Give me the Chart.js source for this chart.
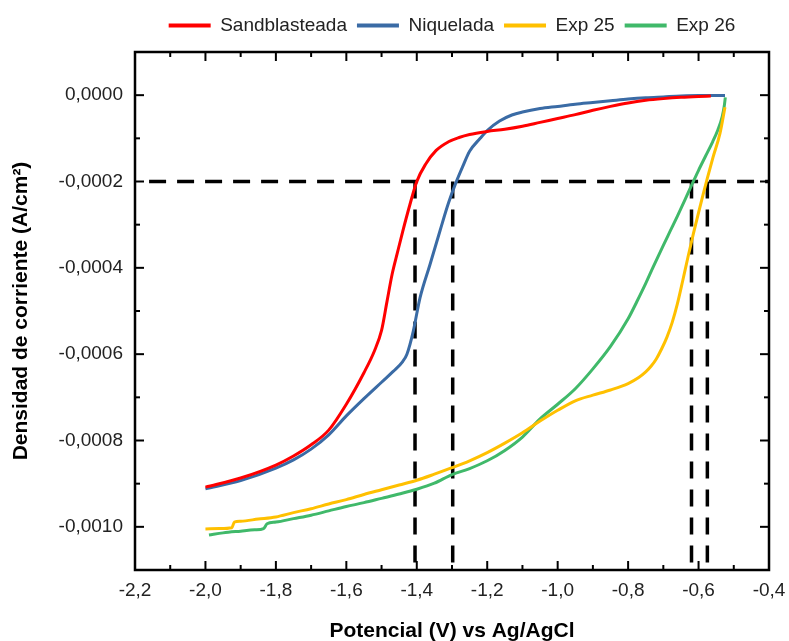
<!DOCTYPE html>
<html>
<head>
<meta charset="utf-8">
<script src="https://cdn.jsdelivr.net/npm/chart.js@4.4.1/dist/chart.umd.min.js"></script>
<style>
  body { margin: 0; background: #fff; }
  canvas { display: block; }
</style>
</head>
<body>
<canvas id="polChart" width="789" height="641"></canvas>
<script>
// series: potential (V vs Ag/AgCl) and current density (A/cm2)
const potSand = [-2.0, -1.9, -1.8, -1.75, -1.7, -1.65, -1.6, -1.55, -1.52, -1.5, -1.485, -1.47, -1.455, -1.44, -1.42, -1.4, -1.375, -1.345, -1.31, -1.28, -1.25, -1.2, -1.15, -1.1, -1.05, -1.0, -0.95, -0.9, -0.85, -0.8, -0.75, -0.7, -0.65, -0.6, -0.565]
const curSand = [-0.000908, -0.000887, -0.000857, -0.000836, -0.00081, -0.000776, -0.000716, -0.000643, -0.000592, -0.000545, -0.00048, -0.000415, -0.000365, -0.000316, -0.000255, -0.0002, -0.00016, -0.000128, -0.000108, -0.000098, -0.000091, -0.000084, -0.000079, -0.000072, -0.000063, -0.000054, -0.000045, -0.000035, -0.000026, -0.000018, -0.000012, -0.000008, -0.000005, -0.000003, -0.000002]

const potNiq = [-2.0, -1.9, -1.8, -1.75, -1.7, -1.65, -1.6, -1.55, -1.5, -1.467, -1.44, -1.428, -1.41, -1.391, -1.362, -1.334, -1.31, -1.29, -1.27, -1.25, -1.22, -1.2, -1.165, -1.13, -1.1, -1.05, -1.0, -0.95, -0.9, -0.85, -0.8, -0.75, -0.7, -0.65, -0.6, -0.525]
const curNiq = [-0.000912, -0.000893, -0.000864, -0.000845, -0.00082, -0.000787, -0.000743, -0.000703, -0.000665, -0.00064, -0.000617, -0.0006, -0.000547, -0.00047, -0.000391, -0.000314, -0.00025, -0.000205, -0.000166, -0.00013, -0.0001, -0.000082, -0.00006, -0.000046, -0.000039, -0.000031, -0.000026, -0.000021, -0.000017, -0.000013, -0.000009, -0.000006, -0.000004, -0.000002, -0.000001, -0.000001]

const potExp25 = [-2.0, -1.96, -1.925, -1.918, -1.9, -1.85, -1.8, -1.75, -1.7, -1.65, -1.6, -1.55, -1.5, -1.45, -1.4, -1.35, -1.3, -1.25, -1.2, -1.15, -1.1, -1.05, -1.0, -0.95, -0.9, -0.85, -0.8, -0.77, -0.75, -0.735, -0.72, -0.705, -0.69, -0.675, -0.66, -0.645, -0.63, -0.615, -0.6, -0.587, -0.575, -0.559, -0.539, -0.525]
const curExp25 = [-0.001005, -0.001004, -0.001002, -0.000989, -0.000987, -0.000982, -0.000977, -0.000967, -0.000958, -0.000947, -0.000937, -0.000925, -0.000914, -0.000903, -0.000892, -0.000878, -0.000863, -0.000847, -0.000828, -0.000806, -0.000782, -0.000755, -0.00073, -0.000708, -0.000695, -0.000683, -0.000668, -0.000654, -0.000641, -0.000628, -0.000611, -0.000588, -0.000561, -0.000527, -0.000483, -0.00043, -0.000375, -0.000322, -0.000272, -0.00023, -0.000192, -0.000144, -0.000088, -0.000028]

const potExp26 = [-1.99, -1.95, -1.9, -1.86, -1.835, -1.825, -1.8, -1.75, -1.7, -1.65, -1.6, -1.55, -1.5, -1.45, -1.4, -1.35, -1.3, -1.25, -1.2, -1.15, -1.1, -1.05, -1.0, -0.95, -0.9, -0.85, -0.8, -0.775, -0.75, -0.73, -0.7, -0.68, -0.66, -0.64, -0.62, -0.6, -0.58, -0.56, -0.545, -0.533, -0.527, -0.524]
const curExp26 = [-0.001019, -0.001014, -0.00101, -0.001007, -0.001004, -0.000993, -0.000989, -0.000981, -0.000973, -0.000963, -0.000953, -0.000944, -0.000934, -0.000924, -0.000913, -0.000899, -0.000879, -0.000865, -0.000847, -0.000823, -0.000792, -0.00075, -0.000716, -0.00068, -0.000634, -0.000582, -0.000518, -0.000478, -0.000436, -0.0004, -0.000348, -0.000314, -0.00028, -0.000245, -0.000209, -0.000174, -0.000141, -0.000108, -0.00008, -0.00005, -0.000025, -0.000005]

// reference lines at -0.0002 A/cm2 and where each curve crosses it
const refCurrent = -0.0002
const refLineX = [-2.16, -0.4]
const crossPot = [-1.405, -1.298, -0.62, -0.575]

const xTicks = [-2.2, -2.0, -1.8, -1.6, -1.4, -1.2, -1.0, -0.8, -0.6, -0.4]
const yTicks = [0, -0.0002, -0.0004, -0.0006, -0.0008, -0.001]
const xMin = -2.2, xMax = -0.4, yMin = -0.0011, yMax = 0.0001

const FONT = "'Liberation Sans', Arial, sans-serif"

const toPoints = (xs, ys) => xs.map((x, i) => ({ x, y: ys[i] }))

function curve(label, xs, ys, color) {
  return {
    label,
    data: toPoints(xs, ys),
    borderColor: color,
    backgroundColor: color,
    borderWidth: 3,
    pointRadius: 0,
    showLine: true,
    cubicInterpolationMode: 'monotone',
  }
}

function dashed(points) {
  return {
    label: '',
    data: points,
    borderColor: '#000',
    borderWidth: 3.5,
    borderDash: [17, 11],
    pointRadius: 0,
    showLine: true,
    tension: 0,
  }
}

const datasets = [
  curve('Sandblasteada', potSand, curSand, '#ff0000'),
  curve('Niquelada', potNiq, curNiq, '#3a6ba5'),
  curve('Exp 25', potExp25, curExp25, '#ffc000'),
  curve('Exp 26', potExp26, curExp26, '#40b96a'),
  dashed(refLineX.map((x) => ({ x, y: refCurrent }))),
  ...crossPot.map((x) => dashed([{ x, y: refCurrent }, { x, y: yMin }])),
]

// box round the plot with inward ticks on all four sides
const frameTicks = {
  id: 'frameTicks',
  afterDatasetsDraw(chart) {
    const { ctx, chartArea: a, scales: { x, y } } = chart
    const line = (x1, y1, x2, y2) => {
      ctx.beginPath()
      ctx.moveTo(x1, y1)
      ctx.lineTo(x2, y2)
      ctx.stroke()
    }
    ctx.save()
    ctx.strokeStyle = '#000'
    ctx.lineWidth = 2
    xTicks.forEach((v, i) => {
      const px = x.getPixelForValue(v)
      line(px, a.bottom, px, a.bottom - 9)
      line(px, a.top, px, a.top + 9)
      if (i < xTicks.length - 1) {
        const m = x.getPixelForValue((v + xTicks[i + 1]) / 2)
        line(m, a.bottom, m, a.bottom - 5)
        line(m, a.top, m, a.top + 5)
      }
    })
    yTicks.forEach((v, i) => {
      const py = y.getPixelForValue(v)
      line(a.left, py, a.left + 9, py)
      line(a.right, py, a.right - 9, py)
      if (i < yTicks.length - 1) {
        const m = y.getPixelForValue((v + yTicks[i + 1]) / 2)
        line(a.left, m, a.left + 5, m)
        line(a.right, m, a.right - 5, m)
      }
    })
    ctx.lineWidth = 2.5
    ctx.strokeRect(a.left, a.top, a.right - a.left, a.bottom - a.top)
    ctx.restore()
  },
}

const ctx = document.getElementById('polChart').getContext('2d')
new Chart(ctx, {
  type: 'scatter',
  data: { datasets },
  plugins: [frameTicks],
  options: {
    responsive: false,
    devicePixelRatio: 1,
    animation: false,
    layout: { padding: { top: 6, right: 20, left: 0, bottom: 0 } },
    plugins: {
      tooltip: { enabled: false },
      legend: {
        position: 'top',
        fullSize: false,
        labels: {
          usePointStyle: true,
          pointStyle: 'line',
          pointStyleWidth: 42,
          padding: 10,
          color: '#222',
          font: { family: FONT, size: 19 },
          filter: (item) => item.datasetIndex < 4,
          generateLabels(chart) {
            const items = Chart.defaults.plugins.legend.labels.generateLabels(chart)
            items.forEach((it) => { it.lineWidth = 4 })
            return items
          },
        },
      },
    },
    scales: {
      x: {
        type: 'linear',
        min: xMin,
        max: xMax,
        afterBuildTicks: (s) => { s.ticks = xTicks.map((value) => ({ value })) },
        afterFit: (s) => {
          s.height = 71
          s.paddingLeft = 0
          s.paddingRight = 0
        },
        grid: { display: false, drawTicks: false },
        border: { display: false },
        ticks: {
          autoSkip: false,
          maxRotation: 0,
          padding: 9,
          color: '#222',
          font: { family: FONT, size: 19 },
          callback: (v) => v.toFixed(1).replace('.', ','),
        },
        title: {
          display: true,
          text: 'Potencial (V) vs Ag/AgCl',
          color: '#000',
          font: { family: FONT, size: 21, weight: 'bold' },
          padding: { top: 0, bottom: -3 },
        },
      },
      x2: {
        type: 'linear',
        position: 'top',
        afterFit: (s) => { s.height = 7 },
        grid: { display: false, drawTicks: false },
        border: { display: false },
        ticks: { display: false },
      },
      y: {
        type: 'linear',
        min: yMin,
        max: yMax,
        afterBuildTicks: (s) => { s.ticks = yTicks.map((value) => ({ value })) },
        afterFit: (s) => { s.width = 135 },
        grid: { display: false, drawTicks: false },
        border: { display: false },
        ticks: {
          padding: 12,
          color: '#222',
          font: { family: FONT, size: 19 },
          callback: (v) => v.toFixed(4).replace('.', ','),
        },
        title: {
          display: true,
          text: 'Densidad de corriente (A/cm²)',
          color: '#000',
          font: { family: FONT, size: 21, weight: 'bold' },
          padding: { top: 9, bottom: 0 },
        },
      },
    },
  },
})
</script>
</body>
</html>
